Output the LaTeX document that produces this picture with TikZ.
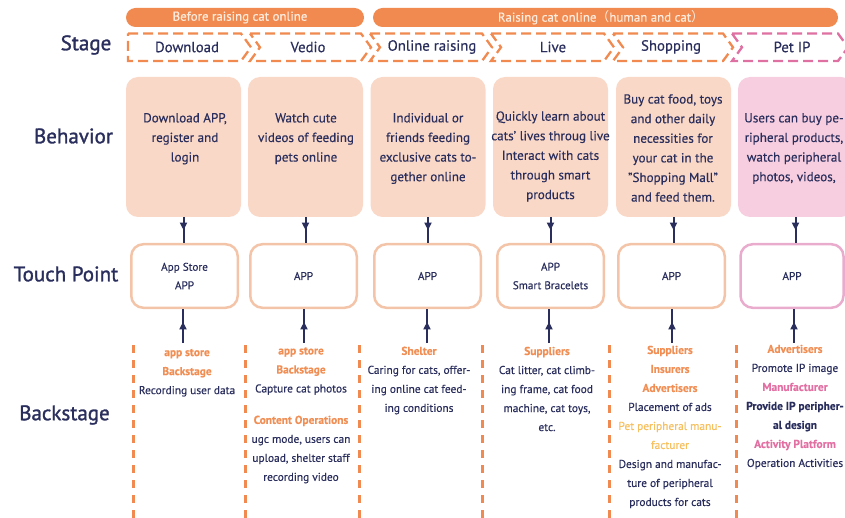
\documentclass[tikz,border=0pt]{standalone}
\usepackage{fontspec}
\setmainfont{PT Sans}[FakeBold=0.35]
\newfontfamily\lblfont{PT Sans}[FakeBold=1.3]
\newfontfamily\cjk{Noto Sans CJK SC}
\usetikzlibrary{arrows.meta,decorations.markings}
\definecolor{navy}{RGB}{42,46,92}
\definecolor{orbar}{RGB}{240,138,80}
\definecolor{peach}{RGB}{250,216,199}
\definecolor{pinkfill}{RGB}{246,206,223}
\definecolor{peachline}{RGB}{243,196,168}
\definecolor{pinkline}{RGB}{234,172,205}
\definecolor{ortext}{RGB}{240,142,84}
\definecolor{pinktext}{RGB}{226,112,163}
\definecolor{yel}{RGB}{246,192,96}
\definecolor{stpink}{RGB}{222,112,162}
\definecolor{bartext}{RGB}{253,236,222}
\newcommand\hdO[1]{{\color{ortext}\bfseries #1}}
\newcommand\hdP[1]{{\color{pinktext}\bfseries #1}}
\newcommand\hdY[1]{{\color{yel}#1}}
\tikzset{
  barbox/.style={fill=orbar, rounded corners=9.5pt},
  bartxt/.style={text=bartext, font=\fontsize{12.9}{15}\selectfont, inner sep=0},
  lbl/.style={text=navy, font=\lblfont\fontsize{21}{24}\selectfont, inner sep=0},
  stagetxt/.style={text=navy, font=\fontsize{14.8}{17}\selectfont, inner sep=0},
  stageline/.style={draw=orbar, line width=2.3pt, dash pattern=on 10pt off 5pt},
  stagepink/.style={stageline, draw=stpink},
  behbox/.style={fill=peach, rounded corners=12pt, minimum width=115pt, minimum height=140pt, inner sep=0},
  behtxt/.style={text=navy, align=center, font=\fontsize{13.1}{19.6}\selectfont, inner sep=0},
  tpbox/.style={draw=peachline, line width=2.5pt, rounded corners=12pt, minimum width=106.5pt, minimum height=63.5pt, inner sep=0,
     text=navy, align=center, font=\fontsize{11.2}{18.5}\selectfont},
  bktxt/.style={text=navy, align=center, font=\fontsize{11.4}{19}\selectfont, inner sep=0},
  vdash/.style={draw=orbar, line width=3pt, dash pattern=on 8pt off 7pt},
  flow/.style={draw=navy, line width=2pt, postaction={decorate},
     decoration={markings, mark=at position #1 with {\arrow{Triangle[width=7pt,length=7.5pt]}}}},
}
\begin{document}
\begin{tikzpicture}[x=1pt,y=-1pt]
\useasboundingbox (0,0) rectangle (845,518);
\clip (0,0) rectangle (845,518);
% top bars
\fill[barbox] (126,8) rectangle (364,27);
\fill[barbox] (373,8) rectangle (838,27);
\node[bartxt] (bar1) at (240,17.5) {Before raising cat online};
\node[bartxt] (bar2) at (601,17.5) {Raising cat online{\cjk （}human and cat{\cjk ）}};
% left labels
\node[lbl] (lstage) at (86,45) {Stage};
\node[lbl] (lbeh) at (73.5,136) {Behavior};
\node[lbl] (ltp) at (66,274) {Touch Point};
\node[lbl] (lbk) at (64.5,415) {Backstage};
% stage chevrons
\draw[stageline] (128,33.5) -- (241,33.5) -- (251,47.3) -- (241,61) -- (128,61) -- cycle;
\draw[stageline] (250,33.5) -- (361,33.5) -- (371,47.3) -- (361,61) -- (250,61) -- (260,47.3) -- cycle;
\draw[stageline] (370,33.5) -- (482,33.5) -- (492,47.3) -- (482,61) -- (370,61) -- (380,47.3) -- cycle;
\draw[stageline] (491,33.5) -- (604,33.5) -- (614,47.3) -- (604,61) -- (491,61) -- (501,47.3) -- cycle;
\draw[stageline] (613,33.5) -- (723,33.5) -- (733,47.3) -- (723,61) -- (613,61) -- (623,47.3) -- cycle;
\draw[stagepink] (732,33.5) -- (838,33.5) -- (848,47.3) -- (838,61) -- (732,61) -- (742,47.3) -- cycle;
\node[stagetxt] (s1) at (187,47) {Download};
\node[stagetxt] (s2) at (308,47) {Vedio};
\node[stagetxt] (s3) at (432,47) {Online raising};
\node[stagetxt] (s4) at (553,47) {Live};
\node[stagetxt] (s5) at (671,47) {Shopping};
\node[stagetxt] (s6) at (792,47) {Pet IP};
% behavior boxes
\node[behbox] (b1) at (183.5,147) {};
\node[behbox] (b2) at (305.5,147) {};
\node[behbox] (b3) at (428,147) {};
\node[behbox] (b4) at (550.5,147) {};
\node[behbox] (b5) at (673.5,147) {};
\node[behbox, fill=pinkfill] (b6) at (795.5,147) {};
\node[behtxt] (bt1) at (185,138.7) {Download APP,\\register and\\login};
\node[behtxt] (bt2) at (306,138.7) {Watch cute\\videos of feeding\\pets online};
\node[behtxt] (bt3) at (428,148.5) {Individual or\\friends feeding\\exclusive cats to-\\gether online};
\node[behtxt] (bt4) at (550.5,156.5) {Quickly learn about\\cats' lives throug live\\Interact with cats\\through smart\\products};
\node[behtxt] (bt5) at (673,148) {Buy cat food, toys\\and other daily\\necessities for\\your cat in the\\"Shopping Mall"\\and feed them.};
\node[behtxt] (bt6) at (794,148.5) {Users can buy pe-\\ripheral products,\\watch peripheral\\photos, videos,};
% touch points
\node[tpbox] (t1) at (184.5,276) {App Store\\APP};
\node[tpbox] (t2) at (303.5,276) {APP};
\node[tpbox] (t3) at (427.5,276) {APP};
\node[tpbox] (t4) at (550.5,276) {APP\\Smart Bracelets};
\node[tpbox] (t5) at (671.5,276) {APP};
\node[tpbox, draw=pinkline, minimum width=103pt] (t6) at (792,276) {APP};
% down arrows
\foreach \i in {1,...,6} {
  \draw[flow=0.5] (b\i.south) -- (b\i.south |- t\i.north);
}
% up arrows
\coordinate (u1) at (183,343);
\coordinate (u2) at (304,343);
\coordinate (u3) at (427,343);
\coordinate (u4) at (549,343);
\coordinate (u5) at (672,343);
\coordinate (u6) at (794,343);
\foreach \i in {1,...,6} {
  \draw[flow=0.62] (u\i) -- (u\i |- t\i.south);
}
% backstage dashed lines
\foreach \x in {133,245,359,482,609,736} {
  \draw[vdash] (\x,345) -- (\x,520);
}
% backstage texts
\node[bktxt] (k1) at (187,372.7) {\hdO{app store}\\\hdO{Backstage}\\Recording user data};
\node[bktxt] (k2a) at (301,371) {\hdO{app store}\\\hdO{Backstage}\\Capture cat photos};
\node[bktxt] (k2b) at (301,449.5) {\hdO{Content Operations}\\ugc mode, users can\\upload, shelter staff\\recording video};
\node[bktxt] (k3) at (419,380.5) {\hdO{Shelter}\\Caring for cats, offer-\\ing online cat feed-\\ing conditions};
\node[bktxt] (k4) at (547,389) {\hdO{Suppliers}\\Cat litter, cat climb-\\ing frame, cat food\\machine, cat toys,\\etc.};
\node[bktxt] (k5) at (670,427) {\hdO{Suppliers}\\\hdO{Insurers}\\\hdO{Advertisers}\\Placement of ads\\\hdY{Pet peripheral manu-}\\\hdY{facturer}\\Design and manufac-\\ture of peripheral\\products for cats};
\node[bktxt] (k6) at (795,407) {\hdO{Advertisers}\\Promote IP image\\\hdP{Manufacturer}\\{\bfseries Provide IP peripher-}\\{\bfseries al design}\\\hdP{Activity Platform}\\Operation Activities};
\end{tikzpicture}
\end{document}
